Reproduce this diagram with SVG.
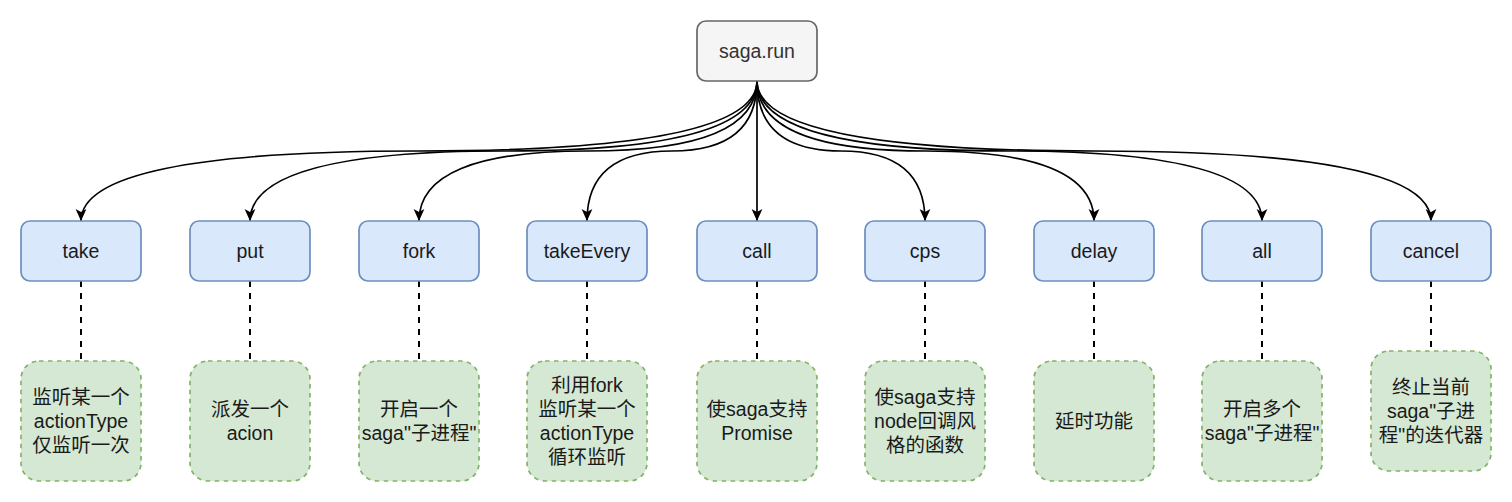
<svg xmlns="http://www.w3.org/2000/svg" width="1512" height="502" viewBox="0 0 1512 502">
<defs>
<style>
text{font-family:"Liberation Sans","Noto Sans CJK SC",sans-serif;font-size:19.5px;text-anchor:middle;fill:#1a1a1a}
.top rect{fill:#f5f5f5;stroke:#666666;stroke-width:1.7}
.top text{fill:#333333}
.mid rect{fill:#dae8fc;stroke:#6c8ebf;stroke-width:1.7}
.bot rect{fill:#d5e8d4;stroke:#82b366;stroke-width:1.7;stroke-dasharray:4.5 4.5}
.edge{fill:none;stroke:#000;stroke-width:1.7}
.dash{fill:none;stroke:#000;stroke-width:2;stroke-dasharray:6 6}
</style>
<marker id="arr" markerUnits="userSpaceOnUse" markerWidth="12" markerHeight="12" viewBox="0 0 10 10" refX="10" refY="5" orient="auto">
<path d="M0,0.5 L10,5 L0,9.5 L2.5,5 Z" fill="#000"/>
</marker>
</defs>
<rect width="1512" height="502" fill="#fff"/>
<g id="connectors">
<path class="edge" marker-end="url(#arr)" d="M757,81 Q757,151 419,151 Q81,151 81,221"/>
<path class="edge" marker-end="url(#arr)" d="M757,81 Q757,151 503.5,151 Q250,151 250,221"/>
<path class="edge" marker-end="url(#arr)" d="M757,81 Q757,151 588,151 Q419,151 419,221"/>
<path class="edge" marker-end="url(#arr)" d="M757,81 Q757,151 672,151 Q587,151 587,221"/>
<path class="edge" marker-end="url(#arr)" d="M757,81 L757,221"/>
<path class="edge" marker-end="url(#arr)" d="M757,81 Q757,151 841,151 Q925,151 925,221"/>
<path class="edge" marker-end="url(#arr)" d="M757,81 Q757,151 925.5,151 Q1094,151 1094,221"/>
<path class="edge" marker-end="url(#arr)" d="M757,81 Q757,151 1009.5,151 Q1262,151 1262,221"/>
<path class="edge" marker-end="url(#arr)" d="M757,81 Q757,151 1094,151 Q1431,151 1431,221"/>
<path class="dash" d="M81,281 L81,361"/>
<path class="dash" d="M250,281 L250,361"/>
<path class="dash" d="M419,281 L419,361"/>
<path class="dash" d="M587,281 L587,361"/>
<path class="dash" d="M757,281 L757,361"/>
<path class="dash" d="M925,281 L925,361"/>
<path class="dash" d="M1094,281 L1094,361"/>
<path class="dash" d="M1262,281 L1262,361"/>
<path class="dash" d="M1431,281 L1431,351"/>
</g>
<g id="saga-run" class="top"><rect x="697" y="21" width="120" height="60" rx="9"/><text x="757" y="58">saga.run</text></g>
<g id="take" class="mid"><rect x="21" y="221" width="120" height="60" rx="9"/><text x="81" y="258">take</text></g>
<g id="put" class="mid"><rect x="190" y="221" width="120" height="60" rx="9"/><text x="250" y="258">put</text></g>
<g id="fork" class="mid"><rect x="359" y="221" width="120" height="60" rx="9"/><text x="419" y="258">fork</text></g>
<g id="takeEvery" class="mid"><rect x="527" y="221" width="120" height="60" rx="9"/><text x="587" y="258">takeEvery</text></g>
<g id="call" class="mid"><rect x="697" y="221" width="120" height="60" rx="9"/><text x="757" y="258">call</text></g>
<g id="cps" class="mid"><rect x="865" y="221" width="120" height="60" rx="9"/><text x="925" y="258">cps</text></g>
<g id="delay" class="mid"><rect x="1034" y="221" width="120" height="60" rx="9"/><text x="1094" y="258">delay</text></g>
<g id="all" class="mid"><rect x="1202" y="221" width="120" height="60" rx="9"/><text x="1262" y="258">all</text></g>
<g id="cancel" class="mid"><rect x="1371" y="221" width="120" height="60" rx="9"/><text x="1431" y="258">cancel</text></g>
<g id="take-desc" class="bot"><rect x="21" y="361" width="120" height="120" rx="18"/><text x="81" y="404">监听某一个</text><text x="81" y="428">actionType</text><text x="81" y="452">仅监听一次</text></g>
<g id="put-desc" class="bot"><rect x="190" y="361" width="120" height="120" rx="18"/><text x="250" y="416">派发一个</text><text x="250" y="440">acion</text></g>
<g id="fork-desc" class="bot"><rect x="359" y="361" width="120" height="120" rx="18"/><text x="419" y="416">开启一个</text><text x="419" y="440">saga"子进程"</text></g>
<g id="takeEvery-desc" class="bot"><rect x="527" y="361" width="120" height="120" rx="18"/><text x="587" y="392">利用fork</text><text x="587" y="416">监听某一个</text><text x="587" y="440">actionType</text><text x="587" y="464">循环监听</text></g>
<g id="call-desc" class="bot"><rect x="697" y="361" width="120" height="120" rx="18"/><text x="757" y="416">使saga支持</text><text x="757" y="440">Promise</text></g>
<g id="cps-desc" class="bot"><rect x="865" y="361" width="120" height="120" rx="18"/><text x="925" y="404">使saga支持</text><text x="925" y="428">node回调风</text><text x="925" y="452">格的函数</text></g>
<g id="delay-desc" class="bot"><rect x="1034" y="361" width="120" height="120" rx="18"/><text x="1094" y="428">延时功能</text></g>
<g id="all-desc" class="bot"><rect x="1202" y="361" width="120" height="120" rx="18"/><text x="1262" y="416">开启多个</text><text x="1262" y="440">saga"子进程"</text></g>
<g id="cancel-desc" class="bot"><rect x="1371" y="351" width="120" height="120" rx="18"/><text x="1431" y="394">终止当前</text><text x="1431" y="418">saga"子进</text><text x="1431" y="442">程"的迭代器</text></g>
</svg>
